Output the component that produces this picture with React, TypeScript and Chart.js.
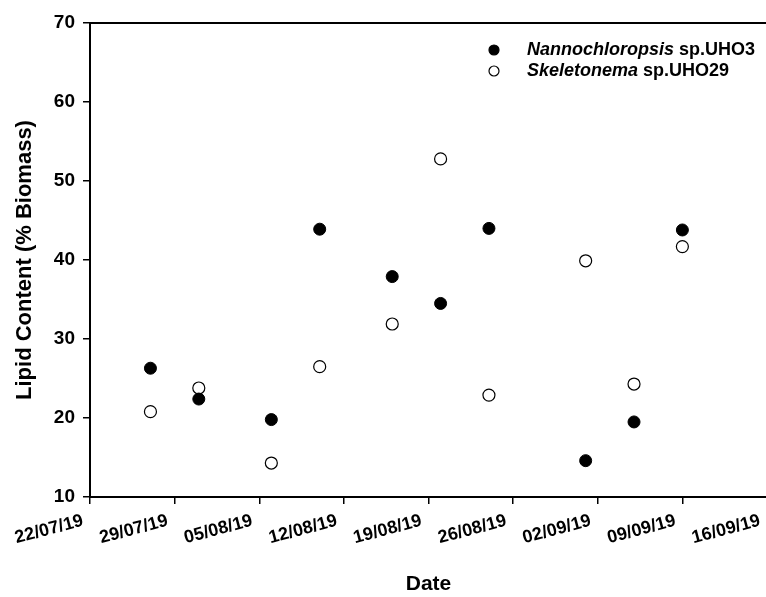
import React, { useEffect, useRef } from "react";
import { Chart, registerables } from "chart.js";

Chart.register(...registerables);

// ---- data ----
const xTickLabels = [
  "22/07/19", "29/07/19", "05/08/19", "12/08/19", "19/08/19",
  "26/08/19", "02/09/19", "09/09/19", "16/09/19",
];
const sampleDates = [
  "27/07/19", "31/07/19", "06/08/19", "10/08/19", "16/08/19",
  "20/08/19", "24/08/19", "01/09/19", "05/09/19", "09/09/19",
];
const nannochloropsis = [26.3, 22.4, 19.8, 43.9, 37.9, 34.5, 44.0, 14.6, 19.5, 43.8];
const skeletonema = [20.8, 23.8, 14.3, 26.5, 31.9, 52.8, 22.9, 39.9, 24.3, 41.7];
const legendItalic = ["Nannochloropsis", "Skeletonema"];
const legendPlain = [" sp.UHO3", " sp.UHO29"];
const yTitle = "Lipid Content (% Biomass)";
const xTitle = "Date";

const FONT = "Arial, 'Liberation Sans', sans-serif";

function toDay(s: string): number {
  const [d, m, y] = s.split("/").map(Number);
  const t = Date.UTC(2000 + y, m - 1, d);
  const [d0, m0, y0] = xTickLabels[0].split("/").map(Number);
  const t0 = Date.UTC(2000 + y0, m0 - 1, d0);
  return Math.round((t - t0) / 86400000);
}

const frameAndLegend = {
  id: "frameAndLegend",
  afterDraw(chart: any) {
    const { ctx, chartArea } = chart;
    ctx.save();
    // top frame line
    ctx.strokeStyle = "#000";
    ctx.lineWidth = 2;
    ctx.beginPath();
    ctx.moveTo(chartArea.left - 1, chartArea.top);
    ctx.lineTo(chart.width, chartArea.top);
    ctx.stroke();

    // legend
    const rows = [50, 71];
    const fills = ["#000", "#fff"];
    rows.forEach((yy, i) => {
      ctx.beginPath();
      ctx.arc(494, yy, 5, 0, Math.PI * 2);
      ctx.fillStyle = fills[i];
      ctx.fill();
      ctx.lineWidth = 1.2;
      ctx.strokeStyle = "#000";
      ctx.stroke();
      ctx.fillStyle = "#000";
      ctx.textBaseline = "middle";
      ctx.textAlign = "left";
      ctx.font = `italic bold 18px ${FONT}`;
      ctx.fillText(legendItalic[i], 527, yy);
      const w = ctx.measureText(legendItalic[i]).width;
      ctx.font = `bold 18px ${FONT}`;
      ctx.fillText(legendPlain[i], 527 + w, yy);
    });
    ctx.restore();
  },
};

export default function App() {
  const ref = useRef<HTMLCanvasElement>(null);

  useEffect(() => {
    if (!ref.current) return;
    const chart = new Chart(ref.current, {
      type: "scatter",
      data: {
        datasets: [
          {
            label: legendItalic[0] + legendPlain[0],
            data: sampleDates.map((d, i) => ({ x: toDay(d), y: nannochloropsis[i] })),
            backgroundColor: "#000",
            borderColor: "#000",
            borderWidth: 1,
            pointRadius: 6,
          },
          {
            label: legendItalic[1] + legendPlain[1],
            data: sampleDates.map((d, i) => ({ x: toDay(d), y: skeletonema[i] })),
            backgroundColor: "#fff",
            borderColor: "#000",
            borderWidth: 1.2,
            pointRadius: 6,
          },
        ],
      },
      options: {
        responsive: false,
        animation: false,
        layout: { padding: { left: 0, top: 23, right: 33, bottom: 0 } },
        plugins: { legend: { display: false }, tooltip: { enabled: false } },
        scales: {
          x: {
            type: "linear",
            min: toDay(xTickLabels[0]),
            max: toDay(xTickLabels[xTickLabels.length - 1]),
            afterBuildTicks: (s: any) => {
              s.ticks = xTickLabels.map((l) => ({ value: toDay(l) }));
            },
            afterFit: (s: any) => {
              s.height = 100;
            },
            ticks: {
              autoSkip: false,
              minRotation: 15,
              maxRotation: 15,
              padding: 6,
              labelOffset: -7,
              color: "#000",
              font: { family: FONT, weight: "bold", size: 18 },
              callback: (v: any) => {
                const idx = xTickLabels.findIndex((l) => toDay(l) === v);
                return idx >= 0 ? xTickLabels[idx] : "";
              },
            },
            grid: {
              drawOnChartArea: false,
              drawTicks: true,
              tickLength: 7,
              color: "#000",
              lineWidth: 1.5,
            },
            border: { color: "#000", width: 2 },
            title: {
              display: true,
              text: xTitle,
              color: "#000",
              font: { family: FONT, weight: "bold", size: 21 },
              padding: { top: 0, bottom: 0 },
            },
          },
          y: {
            min: 10,
            max: 70,
            afterFit: (s: any) => {
              s.width = 90;
            },
            ticks: {
              stepSize: 10,
              padding: 8,
              color: "#000",
              font: { family: FONT, weight: "bold", size: 19 },
            },
            grid: {
              drawOnChartArea: false,
              drawTicks: true,
              tickLength: 7,
              color: "#000",
              lineWidth: 1.5,
            },
            border: { color: "#000", width: 2 },
            title: {
              display: true,
              text: yTitle,
              color: "#000",
              font: { family: FONT, weight: "bold", size: 22 },
              padding: { top: 12, bottom: 0 },
            },
          },
        },
      },
      plugins: [frameAndLegend],
    });
    return () => chart.destroy();
  }, []);

  return (
    <div
      style={{
        position: "absolute",
        left: 0,
        top: 0,
        width: 766,
        height: 597,
        overflow: "hidden",
        background: "#fff",
      }}
    >
      <canvas ref={ref} width={800} height={597} style={{ width: 800, height: 597, display: "block" }} />
    </div>
  );
}
